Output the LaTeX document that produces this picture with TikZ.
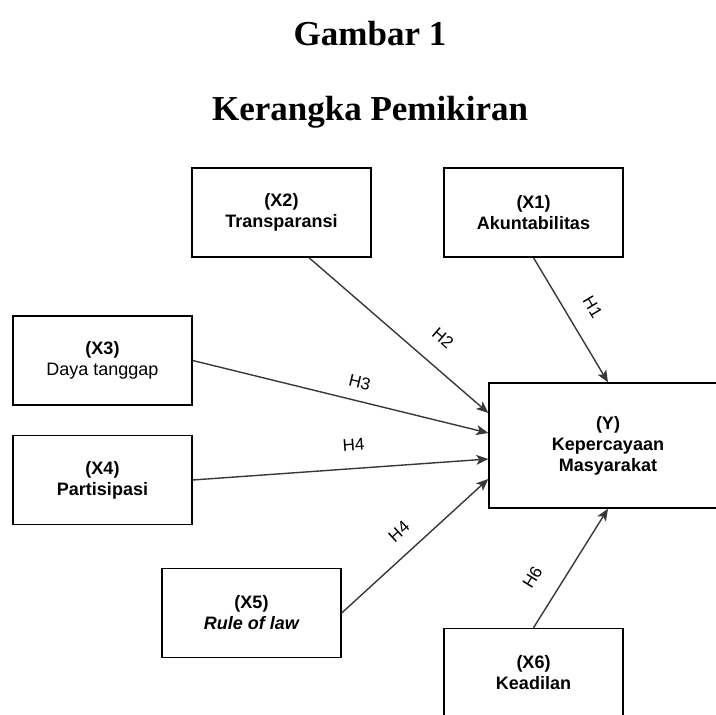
\documentclass[tikz,border=0pt]{standalone}
\usepackage{fontspec}
\setmainfont{Liberation Serif}
\newfontfamily\boxfont{Liberation Sans}
\usetikzlibrary{arrows.meta}
\begin{document}
\begin{tikzpicture}[x=1pt, y=-1pt]
% Kerangka pemikiran, coordinates in pixels of the page
\providecommand{\kpLineColor}{black!78}
\providecommand{\kpBoxLineWidth}{1.4pt}
\providecommand{\kpArrowLineWidth}{1.4pt}
\tikzset{
  varbox/.style={draw=black, line width=\kpBoxLineWidth, minimum width=179pt,
    minimum height=89pt, align=center, inner sep=0pt,
    font=\boxfont\bfseries\fontsize{18}{21}\selectfont},
  hypo/.style={draw=\kpLineColor, line width=\kpArrowLineWidth,
    -{Stealth[length=12pt, width=10pt, inset=3pt]}},
  hlabel/.style={sloped, inner sep=0pt, text=black,
    font=\boxfont\fontsize{17}{20}\selectfont}
}
\useasboundingbox (0,0) rectangle (716,715);
% Title
\node[anchor=base, font=\bfseries\fontsize{35}{40}\selectfont] (title1) at (370,45) {Gambar 1};
\node[anchor=base, font=\bfseries\fontsize{35}{40}\selectfont] (title2) at (370,120) {Kerangka Pemikiran};
% Variables
\node[varbox] (x2) at (281.5,212.5) {(X2)\\Transparansi};
\node[varbox] (x1) at (533.5,212.5) {(X1)\\Akuntabilitas};
\node[varbox] (x3) at (102.5,360.5) {(X3)\\\mdseries Daya tanggap};
\node[varbox] (x4) at (102.5,480) {(X4)\\Partisipasi};
\node[varbox] (x5) at (251.5,613) {(X5)\\\itshape Rule of law};
\node[varbox] (x6) at (533.5,673) {(X6)\\Keadilan};
\node[varbox, minimum width=238pt, minimum height=125pt] (y) at (608,445.5) {(Y)\\Kepercayaan\\Masyarakat};
% Hypotheses
\draw[hypo] (x1.south) -- (y.north) node[hlabel, pos=0.5, above=19pt] (h1) {H1};
\draw[hypo] ([xshift=27.5pt]x2.south) -- ([yshift=32.5pt]y.west) node[hlabel, pos=0.65, above=20pt] (h2) {H2};
\draw[hypo] (x3.east) -- ([yshift=12.5pt]y.west) node[hlabel, pos=0.55, above=12pt] (h3) {H3};
\draw[hypo] (x4.east) -- ([yshift=-13.5pt]y.west) node[hlabel, pos=0.55, above=17pt] (h4) {H4};
\draw[hypo] (x5.east) -- ([yshift=-33.5pt]y.west) node[hlabel, pos=0.49, above=15pt] (h5) {H4};
\draw[hypo] (x6.north) -- (y.south) node[hlabel, pos=0.30, above=21pt] (h6) {H6};
\end{tikzpicture}
\end{document}
